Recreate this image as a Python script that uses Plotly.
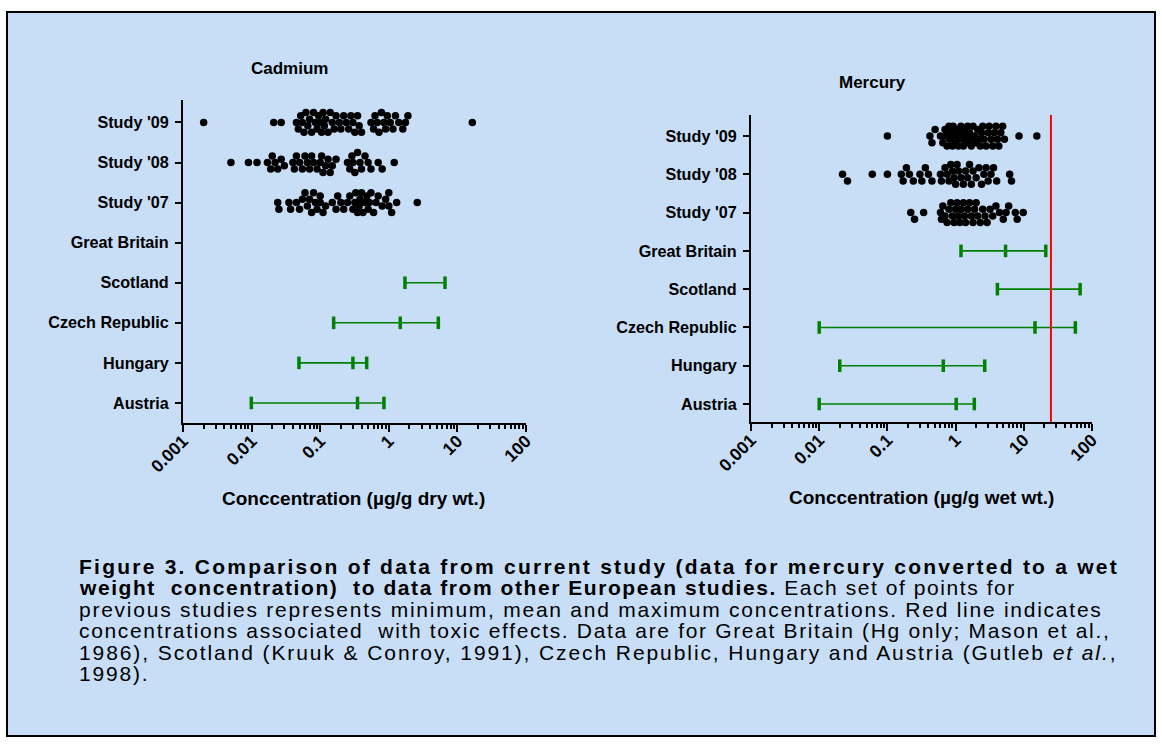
import numpy as np
import plotly.graph_objects as go

W, H = 1162, 745

categories = ["Austria", "Hungary", "Czech Republic", "Scotland", "Great Britain",
              "Study '07", "Study '08", "Study '09"]
tick_vals_x = [0.001, 0.01, 0.1, 1, 10, 100]
tick_text_x = ["0.001", "0.01", "0.1", "1", "10", "100"]

# Cadmium (ug/g dry wt.) - current study
cd_study09 = [0.002, 0.021, 0.027, 0.045, 0.048, 0.052, 0.055, 0.058, 0.062, 0.066, 0.07,
              0.075, 0.08, 0.085, 0.09, 0.095, 0.1, 0.105, 0.11, 0.115, 0.12, 0.13, 0.14,
              0.15, 0.16, 0.17, 0.19, 0.2, 0.22, 0.24, 0.26, 0.28, 0.3, 0.32, 0.35, 0.37,
              0.4, 0.55, 0.6, 0.63, 0.68, 0.72, 0.78, 0.85, 0.9, 0.95, 1.05, 1.15, 1.25,
              1.4, 1.6, 1.75, 1.9, 16.5]
cd_study08 = [0.005, 0.009, 0.012, 0.017, 0.019, 0.02, 0.022, 0.024, 0.027, 0.03, 0.04,
              0.042, 0.045, 0.05, 0.055, 0.06, 0.065, 0.07, 0.075, 0.08, 0.09, 0.1, 0.105,
              0.11, 0.12, 0.13, 0.14, 0.15, 0.17, 0.25, 0.27, 0.29, 0.3, 0.32, 0.35, 0.38,
              0.4, 0.45, 0.5, 0.55, 0.7, 0.8, 1.2]
cd_study07 = [0.024, 0.025, 0.035, 0.037, 0.045, 0.05, 0.055, 0.06, 0.065, 0.07, 0.075,
              0.08, 0.085, 0.09, 0.1, 0.1, 0.11, 0.12, 0.15, 0.17, 0.18, 0.2, 0.22, 0.25,
              0.27, 0.3, 0.32, 0.33, 0.35, 0.37, 0.38, 0.4, 0.42, 0.45, 0.48, 0.5, 0.52,
              0.55, 0.6, 0.65, 0.7, 0.8, 0.9, 1.0, 1.0, 1.1, 1.3, 2.6]

# Cadmium - other European studies (Austria, Hungary, Czech Republic, Scotland, Great Britain)
cd_ref_min = [0.0099, 0.049, 0.157, 1.72, None]
cd_ref_mean = [0.35, 0.30, 1.47, None, None]
cd_ref_max = [0.85, 0.476, 5.27, 6.6, None]

# Mercury (ug/g wet wt.) - current study
hg_study09 = [0.1, 0.42, 0.45, 0.5, 0.6, 0.65, 0.7, 0.72, 0.75, 0.8, 0.82, 0.85, 0.9,
              0.92, 0.95, 1.0, 1.02, 1.05, 1.1, 1.15, 1.2, 1.25, 1.3, 1.35, 1.4, 1.45, 1.5,
              1.6, 1.65, 1.7, 1.8, 1.9, 2.0, 2.1, 2.2, 2.3, 2.4, 2.5, 2.6, 2.8, 3.0, 3.1,
              3.3, 3.5, 3.7, 3.9, 4.1, 4.3, 4.6, 4.9, 5.2, 8.5, 15.5]
hg_study08 = [0.022, 0.026, 0.06, 0.1, 0.16, 0.17, 0.19, 0.21, 0.24, 0.3, 0.32, 0.36, 0.4,
              0.45, 0.6, 0.62, 0.7, 0.75, 0.8, 0.85, 0.9, 0.95, 1.0, 1.05, 1.1, 1.2, 1.3,
              1.4, 1.5, 1.6, 1.7, 1.8, 2.0, 2.2, 2.4, 2.6, 2.8, 3.0, 3.3, 3.6, 4.0, 6.2, 6.6]
hg_study07 = [0.22, 0.25, 0.34, 0.6, 0.62, 0.65, 0.7, 0.75, 0.8, 0.85, 0.9, 0.95, 1.0,
              1.05, 1.1, 1.15, 1.2, 1.3, 1.35, 1.4, 1.5, 1.6, 1.7, 1.8, 1.9, 2.0, 2.1, 2.3,
              2.5, 2.7, 2.9, 3.2, 3.5, 3.9, 4.4, 5.0, 5.5, 6.0, 7.5, 8.0, 9.8]

# Mercury - other European studies (Austria, Hungary, Czech Republic, Scotland, Great Britain)
hg_ref_min = [0.01, 0.02, 0.01, 4.1, 1.2]
hg_ref_mean = [1.02, 0.66, 14.6, None, 5.4]
hg_ref_max = [1.88, 2.67, 57.0, 67.0, 21.0]
hg_toxic = 25.0

FONT = "Liberation Sans, Arial, sans-serif"
BLUE = "rgb(200,222,247)"
GREEN = "#008000"


def swarm(values, px_per_decade, px_per_unit, diam=6.6, step=3.3, maxk=3):
    lv = np.log10(np.asarray(values, dtype=float)) * px_per_decade
    order = np.argsort(lv, kind="stable")
    cands = [0.0]
    for k in range(1, maxk + 1):
        cands += [-k * step, k * step]
    placed = []
    offs = np.zeros(len(lv))
    for i in order:
        x = lv[i]
        best, bestd = 0.0, -1.0
        for c in cands:
            d = min([np.hypot(x - px, c - py) for px, py in placed] or [1e9])
            if d >= diam:
                best = c
                break
            if d > bestd:
                bestd, best = d, c
        placed.append((x, best))
        offs[i] = best
    return offs / px_per_unit


fig = go.Figure()

panels = [
    ("x", "y", [cd_study07, cd_study08, cd_study09], cd_ref_min, cd_ref_mean, cd_ref_max,
     68.6, 40.1),
    ("x2", "y2", [hg_study07, hg_study08, hg_study09], hg_ref_min, hg_ref_mean, hg_ref_max,
     68.2, 38.3),
]

for xa, ya, studies, rmin, rmean, rmax, ppd, ppu in panels:
    for j, vals in enumerate(studies):
        pos = 5 + j
        off = swarm(vals, ppd, ppu)
        fig.add_trace(go.Scatter(
            x=vals, y=pos + off, mode="markers", xaxis=xa, yaxis=ya,
            marker=dict(color="black", size=7.5, line=dict(width=0)),
            showlegend=False, hoverinfo="x"))
    for i in range(len(rmin)):
        pts = [v for v in (rmin[i], rmean[i], rmax[i]) if v is not None]
        if not pts:
            continue
        fig.add_trace(go.Scatter(
            x=pts, y=[i] * len(pts), mode="lines+markers", xaxis=xa, yaxis=ya,
            line=dict(color=GREEN, width=1.6),
            marker=dict(symbol="line-ns", size=9, line=dict(color=GREEN, width=3.5)),
            showlegend=False, hoverinfo="x"))

# red toxic-effects line
fig.add_trace(go.Scatter(x=[hg_toxic, hg_toxic], y=[-0.47, 7.55], mode="lines",
                         xaxis="x2", yaxis="y2", line=dict(color="red", width=2),
                         showlegend=False, hoverinfo="skip"))

minor_vals = [k * 10.0 ** n for n in range(-3, 2) for k in range(2, 10)]

xcommon = dict(type="log", range=[-3, 2], showgrid=False, zeroline=False, automargin=False,
               showline=True, linecolor="black", linewidth=2,
               ticks="outside", ticklen=7, tickwidth=2, tickcolor="black",
               ticklabelstandoff=-8,
               tickmode="array", tickvals=tick_vals_x,
               ticktext=["<b>%s</b>" % t for t in tick_text_x],
               tickangle=-45, tickfont=dict(family=FONT, size=17.5, color="black"),
               minor=dict(tickmode="array", tickvals=minor_vals, ticks="outside",
                          ticklen=4, tickwidth=1.5, tickcolor="black", showgrid=False))
ycommon = dict(showgrid=False, zeroline=False, showline=True, linecolor="black",
               automargin=False, linewidth=2, ticks="outside", ticklen=6, tickwidth=2,
               tickcolor="black", ticklabelstandoff=3,
               tickmode="array", tickvals=list(range(len(categories))),
               ticktext=["<b>%s</b>" % c for c in categories],
               tickfont=dict(family=FONT, size=16.2, color="black"))

fig.update_layout(
    width=W, height=H, margin=dict(l=0, r=0, t=0, b=0, autoexpand=False),
    paper_bgcolor="white", plot_bgcolor="rgba(0,0,0,0)",
    xaxis=dict(domain=[183 / W, 526 / W], anchor="y", **xcommon),
    yaxis=dict(domain=[(H - 423) / H, (H - 100) / H], anchor="x", range=[-0.5, 7.56],
               **ycommon),
    xaxis2=dict(domain=[751 / W, 1092 / W], anchor="y2", **xcommon),
    yaxis2=dict(domain=[(H - 422) / H, (H - 115) / H], anchor="x2", range=[-0.47, 7.55],
                **ycommon),
)

# blue panel
fig.add_shape(type="rect", xref="paper", yref="paper",
              x0=7 / W, x1=1155 / W, y0=1 - 736 / H, y1=1 - 12 / H,
              fillcolor=BLUE, line=dict(color="black", width=2), layer="below")


def ann(text, x, y, size, xanchor="center", yanchor="middle"):
    fig.add_annotation(text=text, x=x / W, y=1 - y / H, xref="paper", yref="paper",
                       showarrow=False, xanchor=xanchor, yanchor=yanchor,
                       font=dict(family=FONT, size=size, color="black"))


ann("<b>Cadmium</b>", 289, 68, 17)
ann("<b>Mercury</b>", 872, 82, 17)
ann("<b>Conccentration (µg/g dry wt.)</b>", 353, 498, 19)
ann("<b>Conccentration (µg/g wet wt.)</b>", 921, 497, 19)

caption = [
    "<b>Figure 3. Comparison of data from current study (data for mercury converted to a wet</b>",
    "<b>weight&nbsp; concentration)&nbsp; to data from other European studies.</b> Each set of points for",
    "previous studies represents minimum, mean and maximum concentrations. Red line indicates",
    "concentrations associated&nbsp; with toxic effects. Data are for Great Britain (Hg only; Mason et al.,",
    "1986), Scotland (Kruuk &amp; Conroy, 1991), Czech Republic, Hungary and Austria (Gutleb <i>et al.</i>,",
    "1998).",
]
cap_spacing = [2.24, 1.56, 1.75, 1.66, 1.91, 1.8]
cap_y = [566, 587, 609, 630, 652, 673]
for t, s, yy in zip(caption, cap_spacing, cap_y):
    ann('<span style="letter-spacing:%.2fpx">%s</span>' % (s, t), 77, yy, 21, xanchor="left")

fig.write_html("out.html", config={"displayModeBar": False},
               post_script="document.body.style.margin='0';")
